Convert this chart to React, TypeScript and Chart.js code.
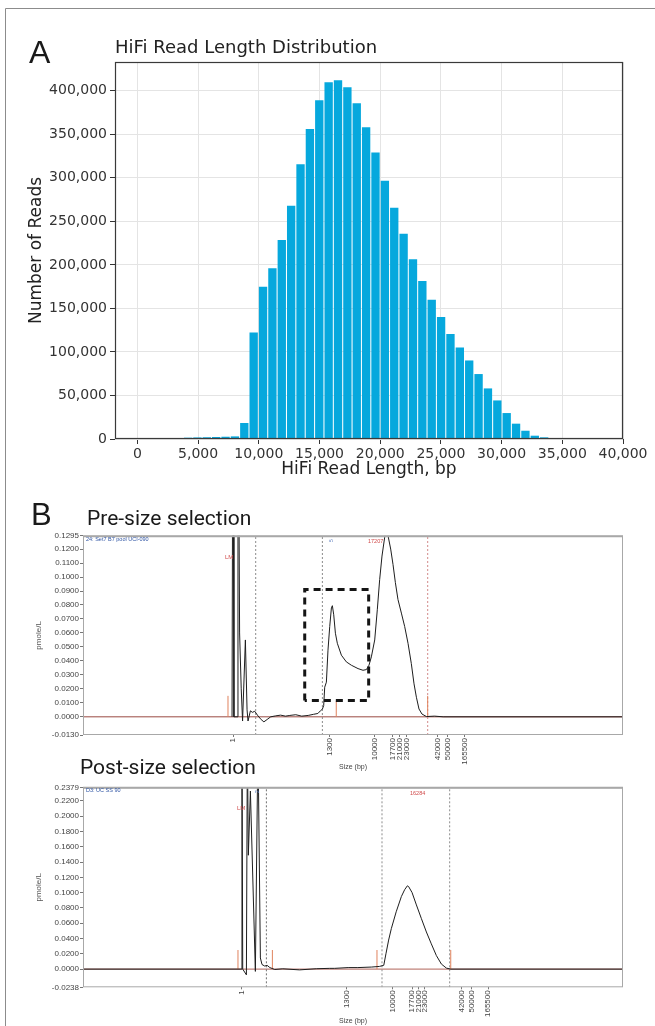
import React, { useEffect, useRef } from 'react';
import { Chart, registerables } from 'chart.js';

Chart.register(...registerables);

// ---------- Panel A: HiFi read length histogram ----------
const binCenters = [
  1082, 1854, 2626, 3398, 4170, 4942, 5714, 6486, 7258, 8030,
  8802, 9574, 10346, 11118, 11890, 12662, 13434, 14206, 14978, 15750,
  16522, 17294, 18066, 18838, 19610, 20382, 21154, 21926, 22698, 23470,
  24242, 25014, 25786, 26558, 27330, 28102, 28874, 29646, 30418, 31190,
  31962, 32734, 33506, 34278, 35050, 35822,
];
const readCounts = [
  200, 300, 700, 1000, 1500, 1800, 2000, 2300, 2600, 3000,
  18400, 122300, 175000, 196000, 228700, 268000, 315500, 356000, 389000, 409600,
  412000, 404000, 385500, 358000, 329000, 296700, 265700, 235600, 206500, 181600,
  159800, 140000, 120500, 105000, 90200, 74600, 58100, 44300, 29800, 17600,
  9500, 3800, 1900, 800, 300, 100,
];
const lengthTicks = [0, 5000, 10000, 15000, 20000, 25000, 30000, 35000, 40000];
const countTicks = [0, 50000, 100000, 150000, 200000, 250000, 300000, 350000, 400000];

// ---------- Panel B: electropherograms (x = migration position, labelled in bp) ----------
const sizeTickLabels = ['1', '1300', '10000', '17700', '21000', '23000', '42000', '50000', '165500'];

const preSizeTickPos = [27.78, 45.7, 54.0, 57.35, 58.65, 59.94, 65.69, 67.54, 70.69];
const preSizeConcTicks = [-0.013, 0, 0.01, 0.02, 0.03, 0.04, 0.05, 0.06, 0.07, 0.08, 0.09, 0.1, 0.11, 0.12, 0.1295];
const preSizePos = [
  27.6, 27.78, 27.95, 28.55, 28.7, 29.0, 29.3, 29.55, 30.07, 30.38,
  30.56, 31.0, 31.37, 31.8, 32.4, 33.0, 33.5, 34.1, 34.76, 35.7,
  36.6, 37.5, 38.3, 39.4, 40.5, 41.7, 42.7, 43.5, 43.96, 44.33,
  44.57, 44.76, 45.07, 45.37, 45.69, 46.0, 46.18, 46.43, 46.74, 47.1,
  47.85, 48.77, 49.7, 50.93, 51.85, 52.48, 52.96, 53.4, 54.02, 54.5,
  54.94, 55.37, 55.87, 56.18, 56.48, 56.98, 57.41, 57.85, 58.33, 58.96,
  59.57, 60.19, 60.8, 61.3, 61.74, 62.22, 62.77, 63.6, 65.1, 66.7, 100,
];
const preSizeConc = [
  0, 0.3, 0, 0, 0.3, 0.06, 0.02, -0.003, 0.055, 0.005,
  -0.003, 0.0043, 0.0032, 0.004, 0.0007, -0.002, -0.0036, -0.0019, 0, 0.0007,
  0.0012, 0.0005, 0.001, 0.0015, 0.0005, 0.001, 0.0018, 0.0024, 0.0043, 0.0055,
  0.008, 0.0212, 0.0248, 0.0477, 0.0646, 0.0779, 0.0795, 0.073, 0.0598, 0.0526,
  0.0441, 0.0393, 0.0369, 0.0345, 0.0333, 0.0338, 0.0369, 0.0429, 0.055, 0.0766,
  0.0983, 0.115, 0.1285, 0.135, 0.1297, 0.12, 0.109, 0.096, 0.0839, 0.0742,
  0.0646, 0.0526, 0.0381, 0.0236, 0.014, 0.0056, 0.002, 0.0002, 0.0005, 0, 0,
];
const preSizeDotted = [31.98, 44.33, 63.83];
const preSizeMarkers = [26.85, 46.9, 63.83];
const preSizeMarkerHeights = [0.015, 0.0116, 0.015];
const preSizeBoxX = [41.06, 52.9];
const preSizeBoxY = [0.0116, 0.0911];

const postSizeTickPos = [29.44, 48.78, 57.4, 60.93, 62.17, 63.28, 70.07, 71.93, 75.0];
const postSizeConcTicks = [-0.0238, 0, 0.02, 0.04, 0.06, 0.08, 0.1, 0.12, 0.14, 0.16, 0.18, 0.2, 0.22, 0.2379];
const postSizePos = [
  0, 29.3, 29.44, 29.58, 30.26, 30.44, 30.62, 31.0, 31.92, 32.4,
  32.85, 33.15, 33.65, 34.1, 34.6, 35.5, 37.0, 40.1, 43.2, 45.7,
  46.6, 49.1, 50.9, 53.4, 54.9, 55.7, 56.1, 56.6, 57.1, 58.0,
  58.96, 59.57, 60.07, 60.3, 60.93, 61.74, 62.67, 63.59, 64.5, 65.44,
  66.37, 67.3, 68.1, 100,
];
const postSizeConc = [
  0, 0, 0.3, 0, -0.0075, 0.3, 0.149, 0.233, -0.003, 0.3,
  0.0146, 0.006, 0.004, 0.0049, 0.002, -0.0005, 0.0004, -0.001, 0.0005, 0.001,
  0.001, 0.002, 0.002, 0.0027, 0.0035, 0.005, 0.02, 0.038, 0.053, 0.075,
  0.095, 0.104, 0.109, 0.108, 0.1003, 0.084, 0.066, 0.0486, 0.0331, 0.0177,
  0.0066, 0.0013, 0, 0,
];
const postSizeDotted = [33.96, 55.37, 67.9];
const postSizeMarkers = [28.7, 35.07, 54.44, 68.1];
const postSizeMarkerHeights = [0.025, 0.025, 0.025, 0.025];

function framePlugin(color: string, width: number, topWidth: number) {
  return {
    id: 'frame',
    afterDatasetsDraw(chart: any) {
      const { ctx, chartArea: a } = chart;
      ctx.save();
      ctx.strokeStyle = color;
      ctx.lineWidth = width;
      ctx.strokeRect(a.left + 0.5, a.top + 0.5, a.right - a.left - 1, a.bottom - a.top - 1);
      if (topWidth > width) {
        ctx.lineWidth = topWidth;
        ctx.beginPath();
        ctx.moveTo(a.left, a.top + 0.5);
        ctx.lineTo(a.right, a.top + 0.5);
        ctx.stroke();
      }
      ctx.restore();
    },
  };
}

function makeHist(canvas: HTMLCanvasElement) {
  const font = 'DejaVu Sans';
  return new Chart(canvas, {
    type: 'bar',
    data: {
      datasets: [
        {
          data: binCenters.map((x, i) => ({ x, y: readCounts[i] })),
          backgroundColor: '#06a8dd',
          borderWidth: 0,
          barPercentage: 0.89,
          categoryPercentage: 1,
        } as any,
      ],
    },
    options: {
      animation: false,
      responsive: false,
      maintainAspectRatio: false,
      layout: { padding: { left: 22, top: 62, right: 32, bottom: 6 } },
      plugins: { legend: { display: false }, tooltip: { enabled: false }, title: { display: false } },
      scales: {
        x: {
          type: 'linear',
          min: -1850,
          max: 40000,
          offset: false,
          afterBuildTicks: (s: any) => { s.ticks = lengthTicks.map((v) => ({ value: v })); },
          afterFit: (s: any) => { s.height = 45; },
          grid: { color: '#e4e4e4', tickColor: '#333', tickLength: 5, offset: false },
          border: { display: false },
          ticks: {
            font: { family: font, size: 14 },
            color: '#333',
            padding: 2,
            maxRotation: 0,
            autoSkip: false,
            callback: (v: any) => Number(v).toLocaleString('en-US'),
          },
          title: {
            display: true,
            text: 'HiFi Read Length, bp',
            font: { family: font, size: 17 },
            color: '#222',
            padding: { top: 4, bottom: 4 },
          },
        } as any,
        y: {
          type: 'linear',
          min: 0,
          max: 433000,
          afterBuildTicks: (s: any) => { s.ticks = countTicks.map((v) => ({ value: v })); },
          afterFit: (s: any) => { s.width = 93; },
          grid: { color: '#e4e4e4', tickColor: '#333', tickLength: 5 },
          border: { display: false },
          ticks: {
            font: { family: font, size: 14 },
            color: '#333',
            padding: 3,
            autoSkip: false,
            callback: (v: any) => Number(v).toLocaleString('en-US'),
          },
          title: {
            display: true,
            text: 'Number of Reads',
            font: { family: font, size: 17 },
            color: '#222',
            padding: { top: 4, bottom: 4 },
          },
        } as any,
      },
    },
    plugins: [framePlugin('#3a3a3a', 1.2, 1.2)],
  });
}

type EpheroCfg = {
  pos: number[];
  conc: number[];
  yTicks: number[];
  xTickPos: number[];
  dotted: number[];
  dottedColors: string[];
  markers: number[];
  markerHeights: number[];
  boxX?: number[];
  boxY?: number[];
  padTop: number;
  axisH: number;
  titlePadBottom: number;
  baseColor: string;
};

function makeEphero(canvas: HTMLCanvasElement, c: EpheroCfg) {
  const yMin = c.yTicks[0];
  const yMax = c.yTicks[c.yTicks.length - 1];
  const font = 'Liberation Sans';
  const line = { pointRadius: 0, tension: 0, fill: false };
  const datasets: any[] = [];
  datasets.push({
    ...line,
    data: c.pos.map((x, i) => ({ x, y: c.conc[i] })),
    borderColor: '#1e1e1e',
    borderWidth: 1,
    clip: 0,
  });
  if (c.boxX && c.boxY) {
    const [x0, x1] = c.boxX;
    const [y0, y1] = c.boxY;
    datasets.push({
      ...line,
      data: [
        { x: x0, y: y0 }, { x: x0, y: y1 }, { x: x1, y: y1 }, { x: x1, y: y0 }, { x: x0, y: y0 },
      ],
      borderColor: '#151515',
      borderWidth: 3,
      borderDash: [7, 5],
      borderCapStyle: 'butt',
    });
  }
  c.markers.forEach((m, i) =>
    datasets.push({
      ...line,
      data: [{ x: m, y: 0 }, { x: m, y: c.markerHeights[i] }],
      borderColor: '#e0835e',
      borderWidth: 1,
    })
  );
  c.dotted.forEach((d, i) =>
    datasets.push({
      ...line,
      data: [{ x: d, y: yMin }, { x: d, y: yMax }],
      borderColor: c.dottedColors[i],
      borderWidth: 1,
      borderDash: [2, 2],
    })
  );
  datasets.push({
    ...line,
    data: [{ x: 0, y: 0 }, { x: 100, y: 0 }],
    borderColor: c.baseColor,
    borderWidth: 1,
  });

  return new Chart(canvas, {
    type: 'line',
    data: { datasets },
    options: {
      animation: false,
      responsive: false,
      maintainAspectRatio: false,
      layout: { padding: { left: 30, top: c.padTop, right: 32, bottom: 0 } },
      plugins: { legend: { display: false }, tooltip: { enabled: false }, title: { display: false } },
      scales: {
        x: {
          type: 'linear',
          min: 0,
          max: 100,
          afterBuildTicks: (s: any) => { s.ticks = c.xTickPos.map((v) => ({ value: v })); },
          afterFit: (s: any) => { s.height = c.axisH; },
          grid: { display: true, drawOnChartArea: false, drawTicks: true, tickLength: 2, tickColor: '#777' },
          border: { display: false },
          ticks: {
            font: { family: font, size: 8 },
            color: '#444',
            padding: 1,
            minRotation: 90,
            maxRotation: 90,
            autoSkip: false,
            callback: (_v: any, i: number) => sizeTickLabels[i],
          },
          title: {
            display: true,
            text: 'Size (bp)',
            font: { family: font, size: 7 },
            color: '#444',
            padding: { top: 0, bottom: c.titlePadBottom },
          },
        } as any,
        y: {
          type: 'linear',
          min: yMin,
          max: yMax,
          afterBuildTicks: (s: any) => { s.ticks = c.yTicks.map((v) => ({ value: v })); },
          afterFit: (s: any) => { s.width = 53; },
          grid: { display: true, drawOnChartArea: false, drawTicks: true, tickLength: 3, tickColor: '#777' },
          border: { display: false },
          ticks: {
            font: { family: font, size: 8 },
            color: '#444',
            padding: 1,
            autoSkip: false,
            callback: (v: any) => Number(v).toFixed(4),
          },
          title: {
            display: true,
            text: 'pmole/L',
            font: { family: font, size: 8 },
            color: '#555',
            padding: { top: 4, bottom: 4 },
          },
        } as any,
      },
    },
    plugins: [framePlugin('#a8a8a8', 1, 2)],
  });
}

export default function App() {
  const refA = useRef<HTMLCanvasElement>(null);
  const refB1 = useRef<HTMLCanvasElement>(null);
  const refB2 = useRef<HTMLCanvasElement>(null);

  useEffect(() => {
    const charts: Chart[] = [];
    if (refA.current) charts.push(makeHist(refA.current));
    if (refB1.current)
      charts.push(
        makeEphero(refB1.current, {
          pos: preSizePos,
          conc: preSizeConc,
          yTicks: preSizeConcTicks,
          xTickPos: preSizeTickPos,
          dotted: preSizeDotted,
          dottedColors: ['#8c8c8c', '#8c8c8c', '#d28a8a'],
          markers: preSizeMarkers,
          markerHeights: preSizeMarkerHeights,
          boxX: preSizeBoxX,
          boxY: preSizeBoxY,
          padTop: 5,
          axisH: 40,
          titlePadBottom: 4,
          baseColor: '#9a4a42',
        })
      );
    if (refB2.current)
      charts.push(
        makeEphero(refB2.current, {
          pos: postSizePos,
          conc: postSizeConc,
          yTicks: postSizeConcTicks,
          xTickPos: postSizeTickPos,
          dotted: postSizeDotted,
          dottedColors: ['#707070', '#8c8c8c', '#8c8c8c'],
          markers: postSizeMarkers,
          markerHeights: postSizeMarkerHeights,
          padTop: 7.3,
          axisH: 38.7,
          titlePadBottom: 1,
          baseColor: '#b0635a',
        })
      );
    return () => charts.forEach((ch) => ch.destroy());
  }, []);

  return (
    <div style={{ position: 'absolute', left: 0, top: 0, width: 655, height: 1026, overflow: 'hidden', background: '#fff' }}>
      <canvas ref={refA} width={655} height={490} style={{ position: 'absolute', left: 0, top: 0 }} />
      <canvas ref={refB1} width={655} height={245} style={{ position: 'absolute', left: 0, top: 530 }} />
      <canvas ref={refB2} width={655} height={246} style={{ position: 'absolute', left: 0, top: 780 }} />
      <svg width={655} height={1026} style={{ position: 'absolute', left: 0, top: 0, pointerEvents: 'none' }}>
        <line x1={5.5} y1={8.5} x2={655} y2={8.5} stroke="#8c8c8c" strokeWidth={1} />
        <line x1={5.5} y1={8.5} x2={5.5} y2={1026} stroke="#8c8c8c" strokeWidth={1} />
        <text x={29} y={63} fontFamily="Liberation Sans" fontSize={32} fill="#1a1a1a">A</text>
        <text x={115} y={53} fontFamily="DejaVu Sans" fontSize={18} fill="#222">HiFi Read Length Distribution</text>
        <text x={31} y={525} fontFamily="Liberation Sans" fontSize={31} fill="#1a1a1a">B</text>
        <text x={87} y={525} fontFamily="Roboto" fontSize={21} fill="#1a1a1a">Pre-size selection</text>
        <text x={80} y={774} fontFamily="Roboto" fontSize={21} fill="#1a1a1a">Post-size selection</text>
        <text x={86} y={541} fontFamily="Liberation Sans" fontSize={5.5} fill="#2f55a4">24: Set7 B7 pool UCI-090</text>
        <text x={225} y={559} fontFamily="Liberation Sans" fontSize={6} fill="#d04a4a">LM</text>
        <text x={333} y={542} fontFamily="Liberation Sans" fontSize={5} fill="#5577bb" transform="rotate(-90 333 542)">5</text>
        <text x={368} y={543} fontFamily="Liberation Sans" fontSize={5.5} fill="#d04a4a">17207</text>
        <text x={86} y={792} fontFamily="Liberation Sans" fontSize={5.5} fill="#2f55a4">D3: UC SS 90</text>
        <text x={237} y={810} fontFamily="Liberation Sans" fontSize={6} fill="#d04a4a">LM</text>
        <text x={259} y={793} fontFamily="Liberation Sans" fontSize={5} fill="#5577bb" transform="rotate(-90 259 793)">2</text>
        <text x={410} y={795} fontFamily="Liberation Sans" fontSize={5.5} fill="#d04a4a">16284</text>
      </svg>
    </div>
  );
}
